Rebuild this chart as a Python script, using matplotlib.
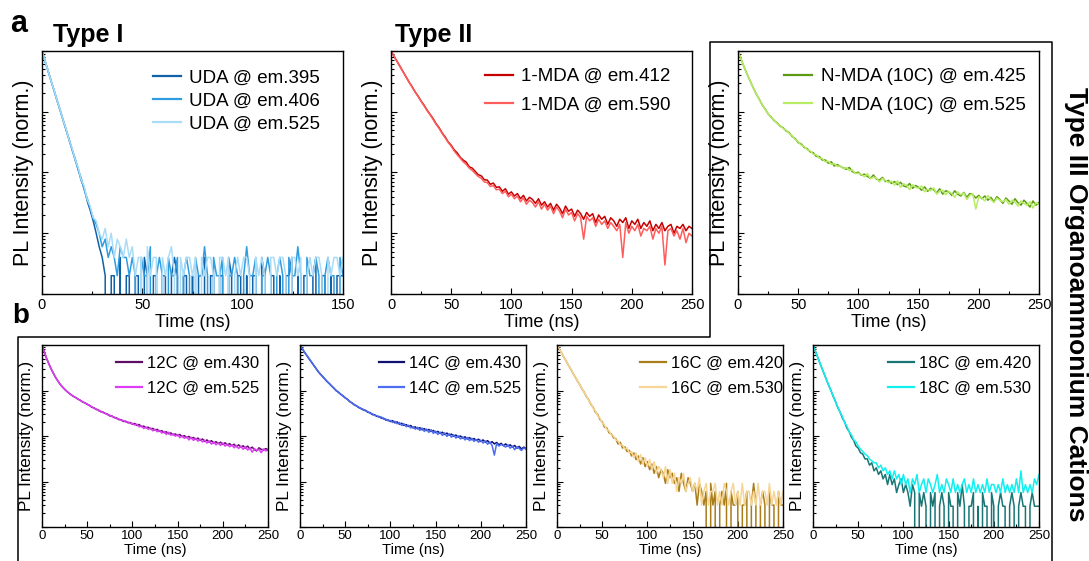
import numpy as np
import matplotlib.pyplot as plt
from matplotlib.ticker import MultipleLocator, LogLocator, NullFormatter
from matplotlib.lines import Line2D

plt.rcParams['font.family'] = ['Liberation Sans', 'DejaVu Sans']

W, H = 1089, 561

# photon counts per time bin, read off the decays
# UDA uses 1.5 ns bins (0-150 ns), everything else 2.5 ns bins (0-250 ns)
UDA_STEP = 1.5
STEP = 2.5

uda_395 = [5000, 3420, 2380, 1610, 1130, 760, 540, 360, 256, 170,
           121, 80, 58, 37, 28, 17, 12, 8, 5, 3,
           2, 1, 0, 1, 1, 0, 2, 0, 1, 1,
           0, 1, 1, 0, 2, 1, 0, 1, 1, 0,
           1, 1, 0, 1, 2, 1, 0, 1, 1, 0,
           1, 0, 1, 1, 2, 0, 1, 1, 0, 1,
           1, 0, 2, 1, 0, 1, 1, 0, 1, 0,
           1, 1, 0, 2, 1, 0, 1, 1, 0, 1,
           0, 1, 1, 2, 0, 1, 0, 1, 1, 0,
           1, 2, 0, 1, 1, 0, 1, 0, 1, 1,
           1]
uda_406 = [5000, 3450, 2360, 1640, 1110, 780, 528, 372, 250, 178,
           118, 86, 55, 41, 26, 19, 13, 9, 7, 5,
           3, 4, 2, 3, 2, 1, 3, 2, 2, 1,
           2, 1, 0, 2, 1, 1, 3, 0, 1, 2,
           1, 0, 2, 1, 1, 2, 0, 1, 2, 1,
           0, 2, 1, 1, 3, 1, 0, 2, 1, 1,
           2, 0, 1, 1, 2, 1, 0, 1, 3, 1,
           1, 2, 0, 1, 1, 2, 1, 0, 1, 2,
           1, 0, 2, 1, 1, 3, 1, 0, 2, 1,
           1, 2, 1, 0, 1, 2, 1, 1, 0, 2,
           1]
uda_525 = [5000, 3460, 2390, 1620, 1140, 770, 545, 365, 262, 172,
           126, 82, 61, 38, 30, 18, 14, 9, 8, 5,
           4, 6, 3, 5, 2, 4, 3, 2, 4, 2,
           3, 1, 2, 2, 0, 3, 1, 2, 2, 0,
           2, 1, 2, 3, 1, 0, 2, 1, 2, 2,
           1, 2, 0, 2, 1, 2, 2, 1, 0, 2,
           2, 1, 2, 0, 1, 2, 1, 2, 2, 1,
           0, 2, 1, 2, 1, 0, 2, 2, 1, 2,
           2, 1, 0, 2, 2, 1, 2, 0, 1, 2,
           1, 2, 2, 1, 0, 2, 1, 2, 2, 1,
           2]

mda_412 = [10000, 8230, 6740, 5580, 4550, 3770, 3080, 2590, 2130, 1810,
           1500, 1280, 1060, 905, 770, 632, 545, 448, 385, 318,
           281, 236, 210, 178, 160, 148, 124, 118, 104, 92,
           88, 76, 75, 64, 67, 57, 58, 49, 54, 44,
           48, 41, 45, 37, 42, 34, 39, 36, 31, 37,
           29, 33, 27, 31, 24, 30, 26, 21, 28, 23,
           25, 19, 24, 21, 17, 22, 19, 21, 15, 20,
           17, 19, 14, 18, 16, 13, 17, 15, 18, 12,
           16, 14, 17, 12, 15, 13, 16, 11, 14, 12,
           15, 11, 13, 14, 10, 13, 12, 14, 11, 13,
           12]
mda_590 = [10000, 8200, 6720, 5540, 4560, 3740, 3060, 2560, 2110, 1780,
           1480, 1250, 1040, 890, 745, 620, 530, 438, 372, 312,
           270, 226, 196, 172, 150, 136, 118, 108, 96, 86,
           80, 70, 68, 59, 61, 52, 53, 45, 49, 40,
           44, 37, 41, 33, 38, 30, 35, 32, 27, 33,
           25, 30, 24, 28, 21, 27, 23, 18, 25, 20,
           22, 16, 21, 18, 8, 19, 16, 18, 13, 17,
           14, 16, 12, 15, 13, 11, 14, 4, 15, 10,
           13, 11, 14, 9, 12, 11, 13, 8, 12, 10,
           13, 3, 11, 12, 9, 11, 8, 12, 7, 10,
           9]

nmda_425 = [10000, 7420, 5490, 4180, 3230, 2520, 1990, 1630, 1310, 1110,
            925, 820, 716, 655, 580, 545, 482, 455, 392, 362,
            310, 295, 258, 246, 218, 212, 184, 183, 160, 161,
            142, 150, 128, 135, 126, 119, 113, 121, 103, 98,
            101, 90, 94, 86, 80, 91, 78, 75, 83, 71,
            74, 66, 71, 63, 69, 60, 58, 66, 55, 61,
            57, 51, 58, 49, 55, 52, 46, 54, 44, 50,
            48, 42, 50, 44, 41, 47, 39, 45, 43, 38,
            42, 37, 41, 35, 39, 33, 40, 36, 31, 38,
            34, 30, 37, 32, 29, 35, 31, 27, 34, 29,
            32]
nmda_525 = [10000, 7400, 5510, 4160, 3250, 2500, 2010, 1610, 1330, 1090,
            940, 805, 732, 638, 598, 528, 498, 440, 404, 348,
            322, 281, 268, 236, 228, 200, 196, 172, 170, 150,
            153, 136, 140, 126, 128, 116, 120, 108, 110, 96,
            97, 93, 85, 96, 79, 84, 81, 70, 80, 74,
            68, 72, 62, 73, 57, 65, 62, 52, 63, 57,
            55, 60, 48, 53, 50, 56, 44, 49, 51, 43,
            49, 45, 39, 48, 43, 46, 36, 42, 45, 25,
            40, 38, 34, 42, 36, 32, 38, 35, 33, 36,
            30, 35, 33, 28, 34, 31, 29, 33, 26, 32,
            30]

c12_430 = [10000, 7090, 5120, 3900, 3010, 2410, 1940, 1630, 1370, 1210,
           1060, 962, 866, 801, 735, 698, 640, 610, 556, 536,
           495, 474, 430, 416, 384, 372, 341, 336, 311, 304,
           276, 275, 252, 250, 229, 228, 209, 212, 196, 197,
           182, 189, 171, 179, 160, 165, 151, 156, 143, 147,
           134, 140, 126, 131, 118, 124, 112, 117, 106, 111,
           102, 108, 97, 102, 92, 98, 88, 93, 84, 90,
           80, 86, 76, 82, 73, 79, 70, 75, 68, 73,
           65, 71, 63, 68, 61, 66, 58, 64, 57, 61,
           54, 60, 52, 57, 50, 47, 55, 51, 49, 53,
           50]
c12_525 = [10000, 7070, 5140, 3880, 3030, 2390, 1960, 1610, 1390, 1190,
           1080, 948, 878, 788, 748, 686, 652, 596, 568, 524,
           508, 462, 444, 404, 394, 358, 352, 324, 320, 292,
           288, 265, 262, 240, 238, 219, 220, 202, 204, 188,
           190, 174, 182, 159, 168, 146, 158, 140, 150, 130,
           141, 124, 132, 116, 126, 108, 121, 104, 112, 99,
           108, 92, 100, 89, 97, 82, 94, 80, 89, 77,
           85, 74, 81, 70, 78, 66, 74, 64, 71, 62,
           70, 60, 66, 58, 64, 55, 62, 53, 60, 51,
           58, 49, 55, 44, 53, 48, 51, 43, 52, 47,
           49]

c14_430 = [10000, 8330, 6910, 5900, 5000, 4280, 3620, 3100, 2620, 2300,
           2030, 1790, 1570, 1420, 1250, 1130, 990, 920, 825, 765,
           686, 642, 569, 536, 484, 462, 420, 405, 374, 366,
           333, 326, 296, 293, 270, 268, 246, 245, 224, 225,
           208, 217, 195, 204, 182, 190, 171, 178, 162, 170,
           151, 159, 144, 152, 137, 145, 132, 139, 126, 132,
           119, 126, 114, 121, 108, 116, 104, 110, 99, 105,
           94, 100, 90, 96, 86, 92, 83, 88, 80, 85,
           76, 82, 73, 79, 70, 75, 67, 72, 64, 69,
           61, 67, 60, 64, 57, 62, 54, 59, 52, 57,
           53]
c14_525 = [10000, 8310, 6930, 5880, 5020, 4260, 3640, 3080, 2640, 2280,
           2050, 1770, 1590, 1400, 1270, 1110, 1010, 904, 840, 752,
           698, 632, 581, 524, 496, 452, 434, 395, 386, 354,
           345, 314, 308, 283, 280, 258, 262, 234, 236, 215,
           220, 198, 210, 186, 198, 170, 186, 160, 172, 150,
           160, 141, 155, 133, 150, 126, 142, 120, 138, 114,
           128, 108, 122, 103, 117, 98, 112, 94, 106, 90,
           101, 86, 96, 82, 93, 79, 89, 76, 84, 73,
           81, 70, 78, 66, 73, 62, 38, 68, 60, 65,
           62, 57, 64, 54, 60, 50, 58, 53, 48, 55,
           51]

c16_420 = [3300, 2690, 2210, 1790, 1480, 1200, 990, 800, 662, 538,
           448, 362, 305, 243, 206, 163, 140, 110, 98, 76,
           68, 52, 50, 39, 37, 30, 29, 22, 24, 18,
           19, 15, 16, 12, 14, 10, 12, 8, 11, 7,
           9, 6, 8, 5, 7, 4, 6, 5, 3, 6,
           4, 5, 3, 4, 2, 5, 3, 2, 4, 3,
           2, 3, 1, 3, 2, 1, 2, 0, 3, 1,
           2, 0, 1, 2, 1, 3, 0, 2, 1, 1,
           2, 0, 1, 1, 2, 0, 1, 3, 1, 0,
           1, 2, 1, 0, 2, 1, 1, 0, 2, 1,
           1]
c16_530 = [3300, 2710, 2190, 1810, 1470, 1210, 980, 810, 655, 546,
           442, 370, 298, 251, 200, 171, 134, 118, 92, 82,
           64, 58, 46, 43, 35, 33, 27, 26, 21, 21,
           17, 18, 14, 15, 11, 14, 9, 13, 8, 11,
           7, 10, 6, 9, 5, 7, 6, 4, 7, 3,
           6, 3, 5, 2, 4, 3, 5, 2, 3, 4,
           2, 3, 2, 4, 1, 2, 3, 1, 2, 2,
           3, 1, 2, 1, 3, 2, 1, 2, 3, 1,
           2, 1, 3, 1, 2, 2, 1, 2, 1, 3,
           1, 2, 2, 1, 3, 1, 2, 1, 2, 1,
           2]

c18_420 = [3500, 2580, 1930, 1420, 1070, 795, 598, 446, 345, 255,
           199, 146, 117, 87, 71, 52, 44, 33, 28, 21,
           19, 15, 14, 11, 11, 8, 9, 6, 7, 5,
           6, 4, 5, 3, 5, 3, 4, 2, 3, 4,
           2, 3, 2, 1, 3, 2, 0, 2, 1, 2,
           1, 0, 2, 1, 2, 0, 1, 2, 1, 0,
           2, 1, 1, 0, 2, 1, 3, 1, 0, 1,
           1, 2, 0, 1, 0, 2, 1, 1, 0, 2,
           1, 0, 1, 2, 1, 1, 0, 1, 2, 1,
           0, 1, 2, 1, 1, 0, 1, 2, 1, 1,
           1]
c18_530 = [3500, 2600, 1910, 1440, 1050, 810, 590, 456, 338, 263,
           195, 152, 115, 93, 69, 57, 43, 37, 29, 26,
           21, 18, 16, 14, 13, 11, 10, 9, 9, 7,
           8, 6, 7, 5, 6, 4, 6, 4, 5, 3,
           5, 3, 4, 2, 4, 3, 5, 2, 3, 4,
           2, 4, 3, 2, 3, 5, 2, 3, 2, 4,
           3, 2, 4, 2, 3, 2, 3, 4, 2, 3,
           2, 4, 2, 3, 2, 3, 2, 4, 2, 3,
           3, 2, 3, 2, 4, 2, 3, 2, 3, 2,
           4, 2, 6, 2, 3, 2, 3, 2, 4, 3,
           5]

# legend labels
uda_labels = ['UDA @ em.395', 'UDA @ em.406', 'UDA @ em.525']
mda_labels = ['1-MDA @ em.412', '1-MDA @ em.590']
nmda_labels = ['N-MDA (10C) @ em.425', 'N-MDA (10C) @ em.525']
c12_labels = ['12C @ em.430', '12C @ em.525']
c14_labels = ['14C @ em.430', '14C @ em.525']
c16_labels = ['16C @ em.420', '16C @ em.530']
c18_labels = ['18C @ em.420', '18C @ em.530']


def px_box(left, top, right, bottom):
    return [left / W, 1 - bottom / H, (right - left) / W, (bottom - top) / H]


def decay_panel(ax, step, series, labels, colors, xmax, big, leg_anchor, leg_space):
    for counts, label, color in zip(series, labels, colors):
        c = np.asarray(counts, dtype=float)
        t = np.arange(len(c)) * step
        ax.plot(t, c / c.max(), color=color, lw=1.1, label=label)
    ax.set_yscale('log')
    ax.set_ylim(1e-4, 1)
    ax.set_xlim(0, xmax)
    ax.xaxis.set_major_locator(MultipleLocator(50))
    ax.xaxis.set_minor_locator(MultipleLocator(25))
    ax.yaxis.set_major_locator(LogLocator(base=10))
    ax.yaxis.set_minor_locator(LogLocator(base=10, subs=np.arange(2, 10)))
    ax.yaxis.set_major_formatter(NullFormatter())
    ax.yaxis.set_minor_formatter(NullFormatter())
    ax.tick_params(which='both', direction='in', top=False, right=False, width=0.8)
    ax.tick_params(which='major', length=4)
    ax.tick_params(which='minor', length=2)
    for s in ax.spines.values():
        s.set_linewidth(1.0)
    if big:
        ax.tick_params(axis='x', labelsize=10.5, pad=3)
        ax.set_xlabel('Time (ns)', fontsize=13, labelpad=1)
        ax.set_ylabel('PL Intensity (norm.)', fontsize=15.5, labelpad=2)
        leg_fs, hl = 13.5, 1.5
    else:
        ax.tick_params(axis='x', labelsize=9.5, pad=2.5)
        ax.set_xlabel('Time (ns)', fontsize=10.7, labelpad=0.5)
        ax.set_ylabel('PL Intensity (norm.)', fontsize=12.4, labelpad=2)
        leg_fs, hl = 12, 1.55
    leg = ax.legend(loc='upper right', bbox_to_anchor=leg_anchor, frameon=False,
                    fontsize=leg_fs, handlelength=hl, handletextpad=0.45 if big else 0.3,
                    labelspacing=leg_space, borderpad=0, borderaxespad=0)
    for h in leg.get_lines():
        h.set_linewidth(1.6)


fig = plt.figure(figsize=(W / 100, H / 100), dpi=100)

ax1 = fig.add_axes(px_box(42, 51, 343, 294))
decay_panel(ax1, UDA_STEP, [uda_395, uda_406, uda_525], uda_labels,
            ['#1061a8', '#2f9de0', '#a9dcf7'], 150, True, (0.925, 0.925), 0.32)
ax1.set_xticks([0, 50, 100, 150])

ax2 = fig.add_axes(px_box(391, 51, 692, 294))
decay_panel(ax2, STEP, [mda_412, mda_590], mda_labels,
            ['#c40000', '#ff5c5c'], 250, True, (0.93, 0.93), 0.6)

ax3 = fig.add_axes(px_box(738, 51, 1039, 294))
decay_panel(ax3, STEP, [nmda_425, nmda_525], nmda_labels,
            ['#5b9a14', '#b8ec64'], 250, True, (0.955, 0.93), 0.6)

bottom_sets = [
    (42, [c12_430, c12_525], c12_labels, ['#5e0e63', '#dd3df5'], (0.96, 0.94)),
    (300, [c14_430, c14_525], c14_labels, ['#0f1170', '#4d6ef2'], (0.98, 0.94)),
    (557, [c16_420, c16_530], c16_labels, ['#a87d1a', '#f7d595'], (1.0, 0.94)),
    (813, [c18_420, c18_530], c18_labels, ['#1a7575', '#10f0f0'], (0.965, 0.94)),
]
for left, series, labels, colors, anchor in bottom_sets:
    ax = fig.add_axes(px_box(left, 345, left + 226, 527))
    decay_panel(ax, STEP, series, labels, colors, 250, False, anchor, 0.59)

# panel letters and group titles
fig.text(10 / W, 1 - 32 / H, 'a', fontsize=22, fontweight='bold', va='baseline')
fig.text(12 / W, 1 - 323 / H, 'b', fontsize=20, fontweight='bold', va='baseline')
fig.text(53 / W, 1 - 42 / H, 'Type I', fontsize=18, fontweight='bold', va='baseline')
fig.text(395 / W, 1 - 42 / H, 'Type II', fontsize=18, fontweight='bold', va='baseline')
fig.text(1076 / W, 1 - 304 / H, 'Type III Organoammonium Cations', fontsize=19,
         fontweight='bold', rotation=-90, ha='center', va='center')

# outline around the Type III panels
xs = np.array([18, 18, 710, 710, 1052, 1052]) / W
ys = 1 - np.array([562, 337, 337, 42, 42, 562]) / H
fig.add_artist(Line2D(xs, ys, color='black', lw=1.1, transform=fig.transFigure))

fig.savefig('out.png', dpi=100)
